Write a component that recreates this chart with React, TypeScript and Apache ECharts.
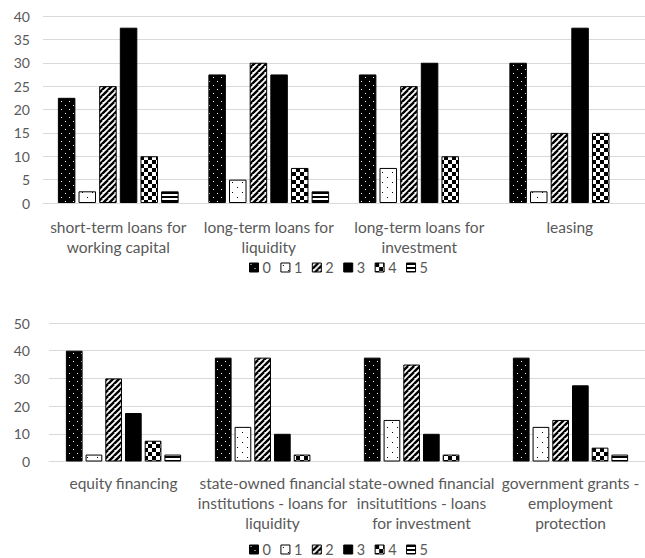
import React, { useEffect, useRef } from "react";
import * as echarts from "echarts";

// Series names shown in both legends
const seriesNames = ["0", "1", "2", "3", "4", "5"];

// Upper panel: debt instruments
const topCategories = [
  "short-term loans for\nworking capital",
  "long-term loans for\nliquidity",
  "long-term loans for\ninvestment",
  "leasing",
];
const topS0 = [22.5, 27.5, 27.5, 30];
const topS1 = [2.5, 5, 7.5, 2.5];
const topS2 = [25, 30, 25, 15];
const topS3 = [37.5, 27.5, 30, 37.5];
const topS4 = [10, 7.5, 10, 15];
const topS5 = [2.5, 2.5, null, null];

// Lower panel: equity, state institutions and grants
const bottomCategories = [
  "equity financing",
  "state-owned financial\ninstitutions - loans for\nliquidity",
  "state-owned financial\ninsitutitions - loans\nfor investment",
  "government grants -\nemployment\nprotection",
];
const botS0 = [40, 37.5, 37.5, 37.5];
const botS1 = [2.5, 12.5, 15, 12.5];
const botS2 = [30, 37.5, 35, 15];
const botS3 = [17.5, 10, 10, 27.5];
const botS4 = [7.5, 2.5, 2.5, 5];
const botS5 = [2.5, null, null, 2.5];

const topTicks = { min: 0, max: 40, interval: 5 };
const bottomTicks = { min: 0, max: 50, interval: 10 };

const FONT = "Lato";
const TEXT = "#595959";
const GRID_LINE = "#d9d9d9";

type Draw = (ctx: CanvasRenderingContext2D) => void;

function tile(w: number, h: number, draw: Draw) {
  const c = document.createElement("canvas");
  c.width = w;
  c.height = h;
  const ctx = c.getContext("2d")!;
  draw(ctx);
  return { image: c.toDataURL(), repeat: "repeat", imageWidth: w, imageHeight: h };
}

function makePatterns() {
  const dark = tile(8, 8, (ctx) => {
    ctx.fillStyle = "#000";
    ctx.fillRect(0, 0, 8, 8);
    ctx.fillStyle = "#fff";
    ctx.fillRect(1, 1, 1, 1);
    ctx.fillRect(5, 5, 1, 1);
  });
  const light = tile(10, 10, (ctx) => {
    ctx.fillStyle = "#fff";
    ctx.fillRect(0, 0, 10, 10);
    ctx.fillStyle = "#000";
    ctx.fillRect(2, 2, 1, 1);
    ctx.fillRect(7, 7, 1, 1);
  });
  const diag = tile(6, 6, (ctx) => {
    ctx.fillStyle = "#fff";
    ctx.fillRect(0, 0, 6, 6);
    ctx.strokeStyle = "#000";
    ctx.lineWidth = 2.4;
    for (let k = -6; k <= 12; k += 6) {
      ctx.beginPath();
      ctx.moveTo(k - 6, 12);
      ctx.lineTo(k + 6, 0);
      ctx.stroke();
    }
  });
  const checker = tile(8, 8, (ctx) => {
    ctx.fillStyle = "#fff";
    ctx.fillRect(0, 0, 8, 8);
    ctx.fillStyle = "#000";
    ctx.fillRect(0, 0, 4, 4);
    ctx.fillRect(4, 4, 4, 4);
  });
  const hstripe = tile(4, 4, (ctx) => {
    ctx.fillStyle = "#fff";
    ctx.fillRect(0, 0, 4, 4);
    ctx.fillStyle = "#000";
    ctx.fillRect(0, 0, 4, 2);
  });
  return [dark, light, diag, "#000", checker, hstripe];
}

export default function App() {
  const ref = useRef<HTMLDivElement>(null);

  useEffect(() => {
    document.body.style.margin = "0";
    if (!ref.current) return;
    const chart = echarts.init(ref.current, undefined, { renderer: "svg" });
    const fills = makePatterns();

    const topData = [topS0, topS1, topS2, topS3, topS4, topS5];
    const botData = [botS0, botS1, botS2, botS3, botS4, botS5];

    const barSeries = (data: (number | null)[][], axisIndex: number, width: number) =>
      data.map((values, i) => ({
        type: "bar",
        name: seriesNames[i],
        xAxisIndex: axisIndex,
        yAxisIndex: axisIndex,
        data: values,
        barWidth: width,
        barGap: "18%",
        itemStyle: { color: fills[i], borderColor: "#000", borderWidth: 1 },
      }));

    const xAxisBase = (cats: string[], margin: number) => ({
      type: "category",
      data: cats,
      axisTick: { show: false },
      axisLine: { lineStyle: { color: GRID_LINE, width: 1 } },
      axisLabel: {
        interval: 0,
        color: TEXT,
        fontFamily: FONT,
        fontSize: 15.5,
        lineHeight: 20,
        margin,
      },
    });

    const yAxisBase = (ticks: { min: number; max: number; interval: number }, margin: number) => ({
      type: "value",
      ...ticks,
      axisLine: { show: false },
      axisTick: { show: false },
      splitLine: { lineStyle: { color: GRID_LINE, width: 1 } },
      axisLabel: { color: TEXT, fontFamily: FONT, fontSize: 14, margin },
    });

    const legendBase = (left: number, top: number) => ({
      data: seriesNames,
      left,
      top,
      icon: "rect",
      itemWidth: 9,
      itemHeight: 9,
      itemGap: 9.5,
      padding: 0,
      itemStyle: { borderColor: "#000", borderWidth: 1 },
      textStyle: { color: TEXT, fontFamily: FONT, fontSize: 14.5, padding: [0, 0, 0, -1] },
      selectedMode: false,
    });

    chart.setOption({
      animation: false,
      backgroundColor: "#fff",
      textStyle: { fontFamily: FONT },
      grid: [
        { left: 43, top: 16, width: 612, height: 187 },
        { left: 49, top: 323, width: 600, height: 138.5 },
      ],
      xAxis: [xAxisBase(topCategories, 14), { ...xAxisBase(bottomCategories, 11), gridIndex: 1 }],
      yAxis: [yAxisBase(topTicks, 13), { ...yAxisBase(bottomTicks, 19), gridIndex: 1 }],
      legend: [legendBase(249, 260), legendBase(249, 542)],
      series: [...barSeries(topData, 0, 17.5), ...barSeries(botData, 1, 16.7)],
    });

    return () => chart.dispose();
  }, []);

  return <div ref={ref} style={{ width: 645, height: 558 }} />;
}
